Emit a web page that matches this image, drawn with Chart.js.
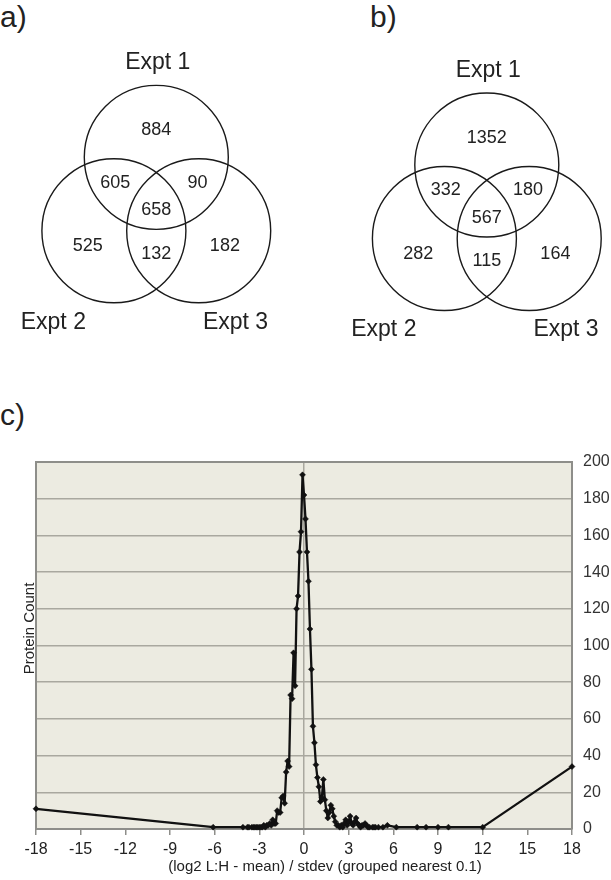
<!DOCTYPE html>
<html>
<head>
<meta charset="utf-8">
<title>Expt overlap and ratio distribution</title>
<script src="https://cdn.jsdelivr.net/npm/chart.js"></script>
<style>
  body { margin: 0; background: #fff; width: 611px; height: 880px; position: relative; overflow: hidden;
         font-family: "Liberation Sans", Arial, sans-serif; color: #222; }
  canvas, .tag { position: absolute; }
  .tag { font-size: 30px; line-height: 30px; }
</style>
</head>
<body>
<div class="tag" style="top:2px;left:0">a)</div>
<div class="tag" style="top:2px;left:370px">b)</div>
<div class="tag" style="top:400px;left:0">c)</div>
<canvas id="vennA" width="305" height="350" style="left:0;top:0"></canvas>
<canvas id="vennB" width="305" height="350" style="left:306px;top:8px"></canvas>
<canvas id="dist" width="611" height="440" style="left:0;top:440px"></canvas>
<script>
// venn regions: [1 only, 1&2, 1&3, 1&2&3, 2 only, 2&3, 3 only]
var setNames = ['Expt 1', 'Expt 2', 'Expt 3'];
var vennA = [884, 605, 90, 658, 525, 132, 182];
var vennB = [1352, 332, 180, 567, 282, 115, 164];

// c) (log2 L:H - mean)/stdev, grouped to 0.1, and protein count per group
var zScore = [
  -18, -6.1, -4.1, -3.8, -3.7, -3.5, -3.4, -3.3, -3.2, -3.1,
  -3.0, -2.9, -2.8, -2.7, -2.6, -2.5, -2.4, -2.3, -2.2, -2.1,
  -2.0, -1.9, -1.8, -1.7, -1.6, -1.5, -1.4, -1.3, -1.2, -1.1,
  -1.0, -0.9, -0.8, -0.7, -0.6, -0.5, -0.4, -0.3, -0.2, -0.1,
  0.0, 0.1, 0.2, 0.3, 0.4, 0.5, 0.6, 0.7, 0.8, 0.9,
  1.0, 1.1, 1.2, 1.3, 1.4, 1.5, 1.6, 1.7, 1.8, 1.9,
  2.0, 2.1, 2.2, 2.3, 2.4, 2.5, 2.6, 2.7, 2.8, 2.9,
  3.0, 3.1, 3.2, 3.3, 3.4, 3.5, 3.6, 3.7, 3.8, 3.9,
  4.0, 4.1, 4.2, 4.3, 4.4, 4.6, 4.7, 4.8, 5.0, 5.3,
  5.6, 6.2, 7.6, 8.2, 9.0, 9.7, 12.0, 18
];
var proteinCount = [
  11, 1, 1, 1, 1, 1, 1, 1, 1, 1,
  1, 1, 1, 2, 1, 2, 2, 3, 2, 5,
  3, 3, 10, 9, 9, 17, 18, 14, 31, 37,
  34, 73, 71, 96, 78, 120, 127, 151, 162, 193,
  182, 169, 151, 135, 109, 87, 56, 47, 35, 28,
  23, 15, 17, 27, 16, 10, 6, 9, 13, 11,
  7, 4, 2, 2, 1, 2, 1, 3, 5, 2,
  4, 7, 3, 2, 4, 6, 3, 2, 1, 2,
  2, 3, 2, 1, 1, 1, 1, 1, 1, 1,
  2, 1, 1, 1, 1, 1, 1, 34
];
var xTitle = '(log2 L:H - mean) / stdev (grouped nearest 0.1)';
var yTitle = 'Protein Count';

Chart.defaults.font.family = '"Liberation Sans", Arial, sans-serif';
Chart.defaults.color = '#222';

// venn layout, in circle radii; the scales below give 1 radius = R px
var R = 72;
function polar(d, deg) { var a = deg * Math.PI / 180; return { x: d * Math.cos(a), y: d * Math.sin(a) }; }
var circleAt = [polar(0.68, 90), polar(0.68, 210), polar(0.68, 330)];
var regionAt = [polar(1.06, 90), polar(0.66, 150), polar(0.66, 30), { x: 0, y: -0.05 },
                polar(1.1, 210), polar(0.66, 270), polar(1.1, 330)];
var nameAt = [{ x: 0.02, y: 1.99 }, { x: -1.43, y: -1.61 }, { x: 1.1, y: -1.61 }];

var vennText = {
  id: 'vennText',
  afterDatasetsDraw: function(chart, args, opts) {
    var ctx = chart.ctx, sx = chart.scales.x, sy = chart.scales.y;
    ctx.save();
    ctx.fillStyle = '#222';
    ctx.textAlign = 'center';
    ctx.textBaseline = 'middle';
    ctx.font = '18px "Liberation Sans", Arial, sans-serif';
    opts.counts.forEach(function(n, i) {
      ctx.fillText(String(n), sx.getPixelForValue(regionAt[i].x), sy.getPixelForValue(regionAt[i].y));
    });
    ctx.font = '23px "Liberation Sans", Arial, sans-serif';
    setNames.forEach(function(s, i) {
      ctx.fillText(s, sx.getPixelForValue(nameAt[i].x), sy.getPixelForValue(nameAt[i].y));
    });
    ctx.restore();
  }
};

function makeVenn(id, counts, cx, cy) {
  var cv = document.getElementById(id);
  var w = cv.width, h = cv.height;
  return new Chart(cv, {
    type: 'bubble',
    data: {
      datasets: [{
        data: circleAt.map(function(p) { return { x: p.x, y: p.y, r: R }; }),
        backgroundColor: 'rgba(0,0,0,0)',
        borderColor: '#1a1a1a',
        borderWidth: 1.4,
        clip: false
      }]
    },
    options: {
      responsive: false, animation: false, events: [], devicePixelRatio: 1,
      layout: { padding: 0, autoPadding: false },
      plugins: { legend: { display: false }, tooltip: { enabled: false }, vennText: { counts: counts } },
      scales: {
        x: { display: false, min: -cx / R, max: (w - cx) / R },
        y: { display: false, min: -(h - cy) / R, max: cy / R }
      }
    },
    plugins: [vennText]
  });
}

makeVenn('vennA', vennA, 156.3, 206.3);
makeVenn('vennB', vennB, 180.8, 206);

var plotBg = {
  id: 'plotBg',
  beforeDraw: function(chart) {
    var a = chart.chartArea, c = chart.ctx;
    c.save();
    c.fillStyle = '#ecebe1';
    c.fillRect(a.left, a.top, a.right - a.left, a.bottom - a.top);
    c.restore();
  }
};

// axis titles sit a little off-centre in the original
var axisTitles = {
  id: 'axisTitles',
  afterDraw: function(chart) {
    var a = chart.chartArea, c = chart.ctx;
    c.save();
    c.fillStyle = '#222';
    c.font = '15px "Liberation Sans", Arial, sans-serif';
    c.textAlign = 'center';
    c.textBaseline = 'middle';
    c.fillText(xTitle, (a.left + a.right) / 2 + 21, a.bottom + 38);
    c.translate(30, (a.top + a.bottom) / 2 - 17);
    c.rotate(-Math.PI / 2);
    c.fillText(yTitle, 0, 0);
    c.restore();
  }
};

var axisGrey = '#8e8e8a';
var gridGrey = '#a9a89f';

new Chart(document.getElementById('dist'), {
  type: 'line',
  data: {
    datasets: [{
      data: zScore.map(function(z, i) { return { x: z, y: proteinCount[i] }; }),
      borderColor: '#111',
      borderWidth: 2.3,
      borderJoinStyle: 'round',
      tension: 0,
      pointStyle: 'rectRot',
      pointRadius: 3,
      pointBackgroundColor: '#111',
      pointBorderColor: '#111',
      pointBorderWidth: 0.5,
      clip: 6,
      yAxisID: 'y'
    }]
  },
  options: {
    responsive: false, animation: false, events: [], devicePixelRatio: 1,
    layout: { padding: { top: 22, left: 0, right: 0, bottom: 0 }, autoPadding: false },
    plugins: { legend: { display: false }, tooltip: { enabled: false } },
    scales: {
      x: {
        type: 'linear', position: 'bottom', min: -18, max: 18,
        ticks: { stepSize: 3, autoSkip: false, maxRotation: 0, padding: 5, color: '#222', font: { size: 16 } },
        grid: {
          color: function(c) { return c.tick && c.tick.value === 0 ? gridGrey : 'rgba(0,0,0,0)'; },
          lineWidth: 1.5, tickColor: axisGrey, tickLength: 6
        },
        border: { display: true, color: axisGrey, width: 2 },
        afterFit: function(s) { s.height = 51; }
      },
      y: {
        type: 'linear', position: 'right', min: 0, max: 200,
        ticks: { stepSize: 20, padding: 11, color: '#333', font: { size: 16 } },
        grid: {
          color: function(c) { return c.tick && c.tick.value === 200 ? axisGrey : gridGrey; },
          lineWidth: function(c) { return c.tick && c.tick.value === 200 ? 2 : 1.5; },
          drawTicks: false
        },
        border: { display: true, color: axisGrey, width: 2 },
        afterFit: function(s) { s.width = 39; }
      },
      yl: {
        type: 'linear', position: 'left', display: true,
        ticks: { display: false },
        grid: { display: false, drawTicks: false },
        border: { display: true, color: axisGrey, width: 2 },
        afterFit: function(s) { s.width = 36; }
      }
    }
  },
  plugins: [plotBg, axisTitles]
});
</script>
</body>
</html>
